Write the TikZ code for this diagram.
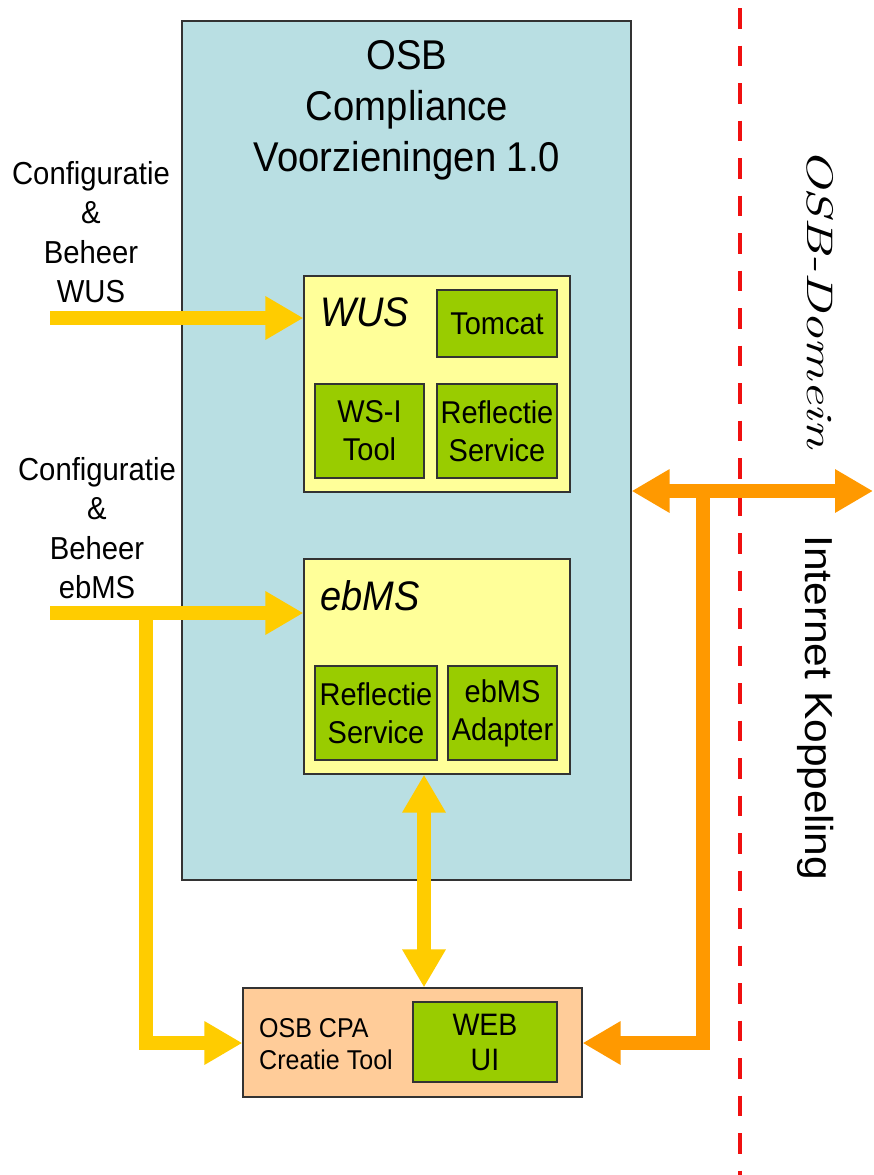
\documentclass[tikz,border=0pt]{standalone}
\usepackage{fontspec}
\setmainfont[FakeStretch=0.92]{Liberation Sans}
\newfontfamily\rotsans[FakeStretch=1.09]{Liberation Sans}
\newfontfamily\domfont[FakeStretch=1.4]{lmroman10-italic.otf}
\usetikzlibrary{arrows.meta}
\definecolor{boxblue}{HTML}{B9DFE3}
\definecolor{boxyellow}{HTML}{FFFF99}
\definecolor{boxgreen}{HTML}{99CC00}
\definecolor{boxpeach}{HTML}{FFCC99}
\definecolor{arryellow}{HTML}{FFCC00}
\definecolor{arrorange}{HTML}{FF9900}
\definecolor{edgegray}{HTML}{333333}
\definecolor{domred}{HTML}{F01010}
\begin{document}
\begin{tikzpicture}[x=1pt,y=-1pt,
  frame/.style={draw=edgegray, line width=1.2pt, inner sep=0pt},
  mainbox/.style={frame, fill=boxblue},
  ybox/.style={frame, fill=boxyellow},
  gbox/.style={frame, fill=boxgreen, align=center, font=\fontsize{31.5}{38}\selectfont},
  pbox/.style={frame, fill=boxpeach},
  lbl/.style={align=center, inner sep=0pt, font=\fontsize{31.8}{39.3}\selectfont},
  fat/.style={line width=14pt, line join=miter, line cap=butt},
  tipa/.tip={Triangle[length=38pt,width=41pt]},
  yarr/.style={fat, draw=arryellow, -tipa},
  ydbl/.style={fat, draw=arryellow, tipa-tipa},
  oarr/.style={fat, draw=arrorange, -tipa},
  odbl/.style={fat, draw=arrorange, tipa-tipa},
  reddash/.style={draw=domred, line width=4.5pt, dash pattern=on 20.5pt off 17pt}
]
\fill[white] (0,0) rectangle (874,1175);
\useasboundingbox (0,0) rectangle (874,1175);

% red domain boundary
\coordinate (rtop) at (740,8);
\coordinate (rbot) at (740,1175);
\draw[reddash] (rtop) -- (rbot);

% main box
\node[mainbox, minimum width=449pt, minimum height=859pt] (osb) at (406.5,450.5) {};
\node[align=center, inner sep=0pt, font=\fontsize{41.6}{51}\selectfont] (title) at (407,110) {OSB\\Compliance\\Voorzieningen 1.0};

% WUS
\node[ybox, minimum width=266pt, minimum height=216pt] (wus) at (437,384) {};
\node[anchor=west, inner sep=0pt, font=\itshape\fontsize{41.3}{48}\selectfont] (wuslbl) at (320,312) {WUS};
\node[gbox, minimum width=120pt, minimum height=67pt] (tomcat) at (497,323.5) {Tomcat};
\node[gbox, minimum width=109pt, minimum height=94pt] (wsi) at (369.5,431) {WS-I\\Tool};
\node[gbox, minimum width=120pt, minimum height=94pt] (refl1) at (497,431) {Reflectie\\Service};

% ebMS
\node[ybox, minimum width=266pt, minimum height=215pt] (ebms) at (437,666.5) {};
\node[anchor=west, inner sep=0pt, font=\itshape\fontsize{41.3}{48}\selectfont] (ebmslbl) at (320,596) {ebMS};
\node[gbox, minimum width=122pt, minimum height=94pt] (refl2) at (376,713) {Reflectie\\Service};
\node[gbox, minimum width=109pt, minimum height=94pt] (adapter) at (502.5,713) {ebMS\\Adapter};

% CPA tool
\node[pbox, minimum width=339pt, minimum height=109pt] (cpa) at (412.5,1042.5) {};
\node[anchor=west, align=left, inner sep=0pt, font=\fontsize{27.2}{32}\selectfont] (cpalbl) at (259,1044) {OSB CPA\\Creatie Tool};
\node[gbox, minimum width=144pt, minimum height=80pt, font=\fontsize{31}{35}\selectfont] (webui) at (485,1042) {WEB\\UI};

% left labels
\node[lbl] (cfgwus) at (91,232) {Configuratie\\\&\\Beheer\\WUS};
\node[lbl] (cfgebms) at (97,528) {Configuratie\\\&\\Beheer\\ebMS};

% right labels
\node[rotate=-90, anchor=base west, inner sep=0pt, font=\domfont\fontsize{37}{44}\selectfont] (domein) at (807,148) {OSB-Domein};
\node[rotate=-90, anchor=base west, inner sep=0pt, font=\rotsans\fontsize{39}{45}\selectfont] (inet) at (805,535) {Internet Koppeling};

% yellow arrows
\coordinate (inwus) at (50,318);
\coordinate (inebms) at (50,613);
\coordinate (brtop) at (146,613);
\coordinate (brbot) at (146,1043);
\coordinate (vx) at (424,0);
\draw[yarr] (inwus) -- (inwus -| wus.west);
\draw[yarr] (brtop) -- (brbot) -- (brbot -| cpa.west);
\draw[yarr] (inebms) -- (inebms -| ebms.west);
\draw[ydbl] (vx |- ebms.south) -- (vx |- cpa.north);

% orange arrows
\coordinate (oright) at (873,491);
\coordinate (obtop) at (703,491);
\coordinate (obbot) at (703,1043);
\draw[oarr] (obtop) -- (obbot) -- (obbot -| cpa.east);
\draw[odbl] (oright -| osb.east) -- (oright);
\end{tikzpicture}
\end{document}
